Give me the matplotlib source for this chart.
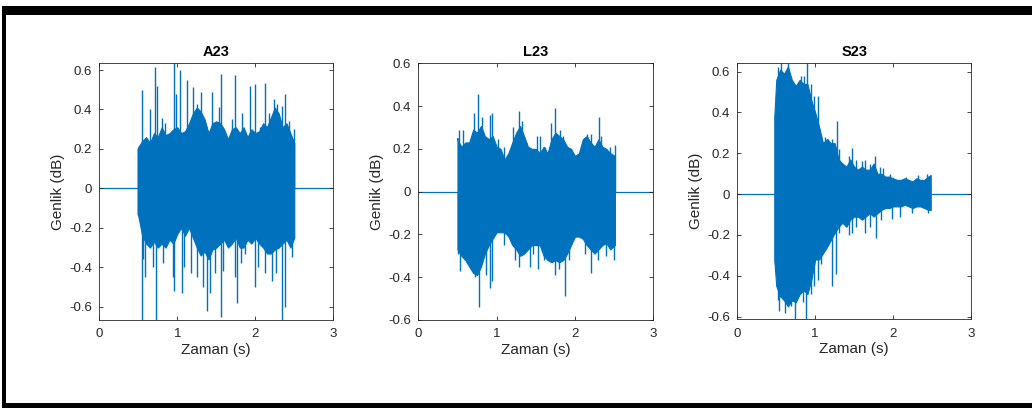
import matplotlib
matplotlib.use("Agg")
import matplotlib.pyplot as plt
from matplotlib.patches import Rectangle

plt.rcParams['font.family'] = ['Liberation Sans', 'DejaVu Sans']

titles = ["A23", "L23", "S23"]
xlabel = "Zaman (s)"
ylabel = "Genlik (dB)"
xticks = [0, 1, 2, 3]
yticks = [-0.6, -0.4, -0.2, 0, 0.2, 0.4, 0.6]
ylims = [(-0.667, 0.634), (-0.6, 0.6), (-0.613, 0.641)]

# envelope sample times (s), every 0.05 s across the sounding part
env_t = [0.50, 0.55, 0.60, 0.65, 0.70, 0.75, 0.80, 0.85, 0.90, 0.95,
         1.00, 1.05, 1.10, 1.15, 1.20, 1.25, 1.30, 1.35, 1.40, 1.45,
         1.50, 1.55, 1.60, 1.65, 1.70, 1.75, 1.80, 1.85, 1.90, 1.95,
         2.00, 2.05, 2.10, 2.15, 2.20, 2.25, 2.30, 2.35, 2.40, 2.45, 2.50]

# ---- A23 ----
a23_upper = [0.21, 0.24, 0.26, 0.23, 0.28, 0.26, 0.31, 0.27, 0.28, 0.30,
             0.31, 0.28, 0.29, 0.33, 0.38, 0.41, 0.39, 0.35, 0.28, 0.33,
             0.34, 0.33, 0.30, 0.25, 0.30, 0.31, 0.28, 0.31, 0.26, 0.30,
             0.28, 0.29, 0.33, 0.31, 0.36, 0.41, 0.38, 0.31, 0.33, 0.28, 0.23]
a23_lower = [-0.14, -0.24, -0.28, -0.30, -0.27, -0.30, -0.28, -0.30, -0.26, -0.28,
             -0.23, -0.20, -0.24, -0.20, -0.25, -0.30, -0.34, -0.32, -0.36, -0.31,
             -0.30, -0.28, -0.26, -0.30, -0.28, -0.25, -0.30, -0.30, -0.26, -0.28,
             -0.25, -0.28, -0.30, -0.33, -0.33, -0.31, -0.30, -0.28, -0.26, -0.30, -0.25]
a23_spike_t = [0.543, 0.65, 0.714, 0.74, 0.81, 0.84, 0.96, 0.98, 1.04, 1.12, 1.20, 1.25,
               1.31, 1.444, 1.53, 1.56, 1.70, 1.735, 1.83, 1.927, 1.99, 2.06, 2.12, 2.17,
               2.235, 2.28, 2.34, 2.385, 2.43, 2.49,
               0.543, 0.56, 0.58, 0.69, 0.73, 0.82, 0.94, 0.96, 1.06, 1.08, 1.18, 1.25,
               1.33, 1.376, 1.42, 1.48, 1.56, 1.59, 1.74, 1.76, 1.82, 1.87, 1.99, 2.04,
               2.13, 2.21, 2.26, 2.34, 2.385, 2.47]
a23_spike_v = [0.50, 0.40, 0.617, 0.52, 0.355, 0.33, 0.634, 0.48, 0.60, 0.55, 0.515, 0.43,
               0.49, 0.49, 0.41, 0.58, 0.35, 0.575, 0.38, 0.52, 0.53, 0.31, 0.535, 0.38,
               0.455, 0.43, 0.42, 0.48, 0.34, 0.30,
               -0.667, -0.36, -0.45, -0.40, -0.667, -0.38, -0.45, -0.52, -0.53, -0.40, -0.43, -0.45,
               -0.50, -0.62, -0.53, -0.43, -0.65, -0.42, -0.45, -0.58, -0.38, -0.33, -0.50, -0.40,
               -0.43, -0.47, -0.43, -0.667, -0.60, -0.35]

# ---- L23 ----
l23_upper = [0.245, 0.21, 0.23, 0.23, 0.29, 0.276, 0.307, 0.26, 0.245, 0.26,
             0.21, 0.20, 0.15, 0.18, 0.23, 0.276, 0.307, 0.26, 0.21, 0.20,
             0.20, 0.18, 0.21, 0.18, 0.245, 0.276, 0.26, 0.245, 0.21, 0.20,
             0.167, 0.18, 0.245, 0.26, 0.23, 0.21, 0.245, 0.21, 0.20, 0.18, 0.167]
l23_lower = [-0.27, -0.30, -0.32, -0.35, -0.38, -0.39, -0.35, -0.29, -0.25, -0.22,
             -0.19, -0.19, -0.19, -0.21, -0.25, -0.27, -0.30, -0.29, -0.27, -0.25,
             -0.25, -0.25, -0.30, -0.32, -0.33, -0.32, -0.33, -0.32, -0.29, -0.25,
             -0.21, -0.21, -0.22, -0.25, -0.27, -0.29, -0.27, -0.25, -0.24, -0.27, -0.25]
l23_spike_t = [0.52, 0.57, 0.71, 0.766, 0.81, 0.83, 0.92, 0.945, 1.02, 1.09, 1.21, 1.29,
               1.32, 1.38, 1.52, 1.55, 1.62, 1.69, 1.74, 1.81, 1.85, 2.15, 2.20, 2.31,
               2.33, 2.45, 2.51,
               0.51, 0.53, 0.60, 0.66, 0.72, 0.78, 0.87, 0.91, 0.945, 1.09, 1.24, 1.28,
               1.43, 1.46, 1.53, 1.60, 1.74, 1.79, 1.87, 1.93, 2.13, 2.21, 2.30, 2.40, 2.50]
l23_spike_v = [0.29, 0.29, 0.37, 0.458, 0.35, 0.28, 0.36, 0.37, 0.245, 0.21, 0.30, 0.377,
               0.33, 0.23, 0.26, 0.26, 0.21, 0.32, 0.39, 0.29, 0.26, 0.27, 0.27, 0.35,
               0.26, 0.21, 0.22,
               -0.29, -0.37, -0.32, -0.35, -0.40, -0.54, -0.39, -0.45, -0.42, -0.25, -0.32, -0.35,
               -0.35, -0.29, -0.36, -0.32, -0.39, -0.36, -0.49, -0.32, -0.29, -0.38, -0.32, -0.30, -0.32]

# ---- S23 ----
s23_upper = [0.56, 0.61, 0.59, 0.625, 0.56, 0.53, 0.56, 0.54, 0.54, 0.46,
             0.40, 0.33, 0.25, 0.27, 0.25, 0.25, 0.17, 0.15, 0.135, 0.17,
             0.135, 0.12, 0.135, 0.12, 0.12, 0.15, 0.10, 0.10, 0.086, 0.086,
             0.078, 0.07, 0.07, 0.078, 0.07, 0.062, 0.078, 0.07, 0.07, 0.086, 0.094]
s23_lower = [-0.45, -0.50, -0.52, -0.55, -0.52, -0.53, -0.49, -0.47, -0.49, -0.42,
             -0.32, -0.32, -0.29, -0.26, -0.225, -0.19, -0.16, -0.14, -0.16, -0.125,
             -0.11, -0.11, -0.125, -0.11, -0.093, -0.11, -0.093, -0.077, -0.068, -0.068,
             -0.06, -0.06, -0.06, -0.052, -0.06, -0.068, -0.06, -0.06, -0.068, -0.077, -0.077]
s23_spike_t = [0.52, 0.565, 0.65, 0.69, 0.82, 0.855, 0.895, 0.94, 0.99, 1.036, 1.12, 1.16,
               1.21, 1.28, 1.31, 1.44, 1.47, 1.53, 1.60, 1.64, 1.70, 1.77, 1.83, 1.87,
               1.96, 2.17, 2.32, 2.44,
               0.48, 0.52, 0.54, 0.61, 0.69, 0.74, 0.84, 0.886, 0.95, 0.99, 1.036, 1.08,
               1.14, 1.21, 1.27, 1.31, 1.38, 1.44, 1.47, 1.53, 1.64, 1.70, 1.78, 1.85,
               1.98, 2.09, 2.24, 2.45]
s23_spike_v = [0.625, 0.641, 0.641, 0.54, 0.58, 0.58, 0.641, 0.54, 0.48, 0.48, 0.28, 0.27,
               0.27, 0.36, 0.22, 0.186, 0.225, 0.168, 0.16, 0.168, 0.15, 0.185, 0.135, 0.13,
               0.10, 0.086, 0.094, 0.10,
               -0.34, -0.52, -0.57, -0.58, -0.55, -0.613, -0.53, -0.61, -0.49, -0.45, -0.42, -0.34,
               -0.26, -0.45, -0.39, -0.19, -0.13, -0.20, -0.19, -0.16, -0.19, -0.16, -0.215, -0.125,
               -0.12, -0.11, -0.093, -0.093]

signal_start = [0.49, 0.50, 0.475]
signal_end = [2.50, 2.51, 2.483]
start_upper = [0.20, 0.25, 0.38]
start_lower = [-0.13, -0.27, -0.32]

bodies = [(a23_upper, a23_lower), (l23_upper, l23_lower), (s23_upper, s23_lower)]
spikes = [(a23_spike_t, a23_spike_v), (l23_spike_t, l23_spike_v), (s23_spike_t, s23_spike_v)]

blue = '#0072BD'
axc = '#262626'

fig = plt.figure(figsize=(10.32, 4.08), dpi=100)
W, H = 1032, 408
boxes = [(99.3, 333.3, 63.3, 320.0), (418.3, 653.3, 63.3, 320.0), (737.3, 971.0, 63.3, 319.3)]

for i in range(3):
    x0, x1, y0, y1 = boxes[i]
    ax = fig.add_axes([x0 / W, (H - y1) / H, (x1 - x0) / W, (y1 - y0) / H])
    up, lo = bodies[i]
    t = [signal_start[i]] + list(env_t)
    up = [start_upper[i]] + list(up)
    lo = [start_lower[i]] + list(lo)
    t[-1] = signal_end[i]
    ax.axhline(0, color=blue, lw=0.9, zorder=1)
    ax.fill_between(t, lo, up, color=blue, lw=0.8, edgecolor=blue, zorder=2)
    st, sv = spikes[i]
    ax.vlines(st, 0, sv, color=blue, lw=1.0, zorder=2)
    ax.set_xlim(0, 3)
    ax.set_ylim(*ylims[i])
    ax.set_xticks(xticks)
    ax.set_yticks(yticks)
    ax.set_xticklabels([str(v) for v in xticks])
    ax.set_yticklabels(['0' if v == 0 else f'{v:g}' for v in yticks])
    ax.tick_params(direction='in', length=3, width=0.6, colors=axc, labelsize=9.5,
                   top=True, right=True)
    ax.tick_params(axis='x', pad=6)
    ax.tick_params(axis='y', pad=5)
    for s in ax.spines.values():
        s.set_color(axc)
        s.set_linewidth(0.6)
    ax.set_title(titles[i], fontsize=10.5, fontweight='bold', color='black', pad=5)
    ax.set_xlabel(xlabel, fontsize=11, color=axc, labelpad=2)
    ax.set_ylabel(ylabel, fontsize=11, color=axc, labelpad=3)

# black frame of the screenshot
def frame(px0, py0, px1, py1):
    fig.add_artist(Rectangle((px0 / W, (H - py1) / H), (px1 - px0) / W, (py1 - py0) / H,
                             transform=fig.transFigure, color='black', lw=0, zorder=10))

frame(2, 6, W, 15)
frame(2, 6, 6, H)
frame(2, 403, W, H)

fig.savefig('out.png', dpi=100)
